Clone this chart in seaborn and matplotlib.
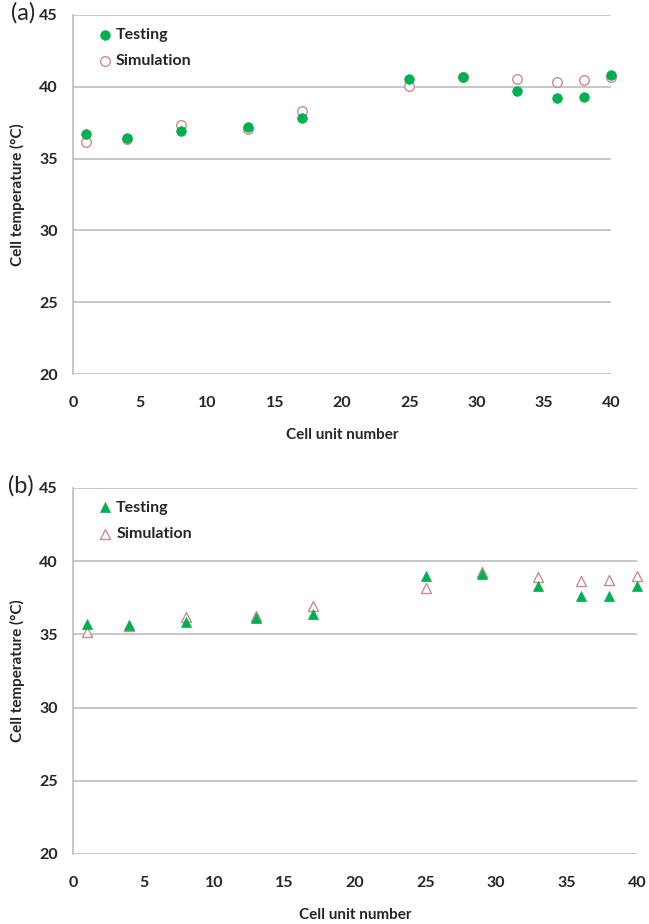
import matplotlib
matplotlib.use("Agg")
import matplotlib.pyplot as plt
import seaborn as sns
import pandas as pd

# Cell positions along the module
cells = [1, 4, 8, 13, 17, 25, 29, 33, 36, 38, 40]

# (a) cell temperatures, °C
testing_a = [36.74, 36.41, 36.9, 37.2, 37.8, 40.55, 40.67, 39.72, 39.21, 39.3, 40.83]
simulation_a = [36.18, 36.35, 37.31, 37.06, 38.31, 40.02, 40.7, 40.53, 40.35, 40.49, 40.65]

# (b) cell temperatures, °C
testing_b = [35.68, 35.65, 35.86, 36.09, 36.38, 38.98, 39.09, 38.3, 37.6, 37.6, 38.3]
simulation_b = [35.15, 35.6, 36.2, 36.25, 36.93, 38.2, 39.27, 38.93, 38.62, 38.68, 38.98]

x_ticks = [0, 5, 10, 15, 20, 25, 30, 35, 40]
y_ticks = [20, 25, 30, 35, 40, 45]

GREEN = "#00B050"
ROSE = "#C98E8E"
GRID = "#BEBEBE"
TEXT = "#262626"

sns.set_theme(style="white")
plt.rcParams["font.family"] = ["Lato", "DejaVu Sans"]

fig = plt.figure(figsize=(6.49, 9.24), dpi=100)
ax_a = fig.add_axes([0.1125, 0.5952, 0.9414 - 0.1125, 0.9838 - 0.5952])
ax_b = fig.add_axes([0.1125, 0.0758, 0.9815 - 0.1125, 0.4719 - 0.0758])


def draw_panel(ax, testing, simulation, marker, size, tag):
    df = pd.DataFrame({
        "cell": cells * 2,
        "temp": testing + simulation,
        "series": ["Testing"] * len(cells) + ["Simulation"] * len(cells),
    })
    sns.scatterplot(data=df[df.series == "Simulation"], x="cell", y="temp", ax=ax,
                    marker=marker, s=size, facecolor="white", edgecolor=ROSE,
                    linewidth=1.0, label="Simulation", zorder=3, clip_on=False)
    sns.scatterplot(data=df[df.series == "Testing"], x="cell", y="temp", ax=ax,
                    marker=marker, s=size, color=GREEN, edgecolor=GREEN,
                    linewidth=0.5, label="Testing", zorder=4, clip_on=False)
    ax.set_xlim(0, 40)
    ax.set_ylim(20, 45)
    ax.set_xticks(x_ticks)
    ax.set_yticks(y_ticks)
    ax.set_xticklabels([str(t) for t in x_ticks], fontsize=11.5, fontweight="bold", color=TEXT)
    ax.set_yticklabels([str(t) for t in y_ticks], fontsize=11.5, fontweight="bold", color=TEXT)
    ax.tick_params(axis="x", length=0, pad=16)
    ax.tick_params(axis="y", length=0, pad=11)
    ax.yaxis.grid(True, color=GRID, linewidth=1.2)
    ax.xaxis.grid(False)
    for side in ("top", "right", "bottom"):
        ax.spines[side].set_visible(False)
    ax.spines["left"].set_color(GRID)
    ax.spines["left"].set_linewidth(1.2)
    ax.set_xlabel("Cell unit number", fontsize=11, fontweight="bold", color=TEXT, labelpad=13)
    ax.set_ylabel("Cell temperature (°C)", fontsize=11, fontweight="bold", color=TEXT, labelpad=10)
    handles, labels = ax.get_legend_handles_labels()
    order = [labels.index("Testing"), labels.index("Simulation")]
    leg = ax.legend([handles[i] for i in order], [labels[i] for i in order],
                    loc="upper left", bbox_to_anchor=(0.02, 1.005), frameon=False,
                    handlelength=0.8, handletextpad=0.3, labelspacing=0.75,
                    prop={"weight": "bold", "size": 11.5})
    for t in leg.get_texts():
        t.set_color(TEXT)
    ax.text(-0.115, 1.005, tag, transform=ax.transAxes, fontsize=17,
            color=TEXT, ha="left", va="center")


draw_panel(ax_a, testing_a, simulation_a, "o", 48, "(a)")
draw_panel(ax_b, testing_b, simulation_b, "^", 52, "(b)")

fig.savefig("out.png", dpi=100, facecolor="white")
